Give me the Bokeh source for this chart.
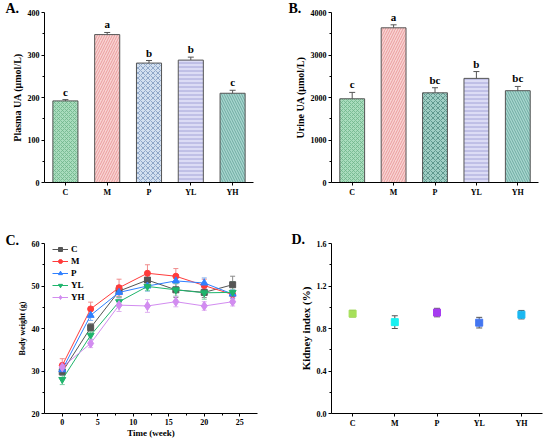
from bokeh.plotting import figure
from bokeh.models import (FactorRange, Range1d, FixedTicker, Whisker, TeeHead,
                          ColumnDataSource, Legend, LegendItem, PrintfTickFormatter)
from bokeh.layouts import column, row
from bokeh.embed import file_html
from bokeh.resources import INLINE
from bokeh.core.properties import value

# ---------------- data ----------------
groups = ["C", "M", "P", "YL", "YH"]

plasma_ua = [192, 348, 281, 288, 210]
plasma_err = [3, 5, 6, 7, 7]
plasma_sig = ["c", "a", "b", "b", "c"]

urine_ua = [1970, 3640, 2110, 2450, 2160]
urine_err = [150, 70, 120, 160, 100]
urine_sig = ["c", "a", "bc", "b", "bc"]

weeks = [0, 4, 8, 12, 16, 20, 24]
bw_C = [29.8, 40.2, 48.8, 51.4, 49.1, 48.5, 50.3]
bw_M = [31.3, 44.6, 49.6, 53.0, 52.3, 50.1, 48.0]
bw_P = [30.3, 43.1, 48.5, 50.0, 51.2, 50.7, 48.1]
bw_YL = [28.0, 38.4, 46.3, 49.9, 49.1, 48.4, 48.5]
bw_YH = [30.9, 36.5, 45.5, 45.3, 46.3, 45.3, 46.3]
bw_C_err = [0.8, 1.0, 1.3, 1.5, 1.8, 1.2, 2.0]
bw_M_err = [1.6, 1.6, 2.0, 2.0, 1.8, 1.5, 1.0]
bw_P_err = [1.2, 1.2, 1.2, 1.2, 1.5, 1.2, 1.0]
bw_YL_err = [1.2, 1.0, 1.0, 1.0, 1.5, 1.5, 2.5]
bw_YH_err = [1.0, 1.0, 1.5, 1.5, 1.2, 1.0, 1.0]

kidney_index = [0.94, 0.86, 0.95, 0.855, 0.93]
kidney_err = [0.03, 0.06, 0.04, 0.05, 0.04]

SERIF = "Liberation Serif"


def base_fig(x_range, y_range, width, height, left, right, top, bottom):
    p = figure(x_range=x_range, y_range=y_range, width=width, height=height,
               output_backend="svg", toolbar_location=None,
               min_border_left=left, min_border_right=right,
               min_border_top=top, min_border_bottom=bottom)
    p.xgrid.visible = False
    p.ygrid.visible = False
    p.outline_line_color = None
    p.border_fill_color = "white"
    for ax in [p.xaxis[0], p.yaxis[0]]:
        ax.axis_line_color = "black"
        ax.axis_line_width = 1
        ax.major_tick_line_color = "black"
        ax.minor_tick_line_color = "black"
        ax.major_tick_in = 0
        ax.major_tick_out = 3
        ax.minor_tick_in = 0
        ax.minor_tick_out = 2
        ax.major_label_text_font = SERIF
        ax.major_label_text_font_style = "bold"
        ax.major_label_text_font_size = "8px"
        ax.major_label_text_color = "black"
        ax.axis_label_text_font = SERIF
        ax.axis_label_text_font_style = "bold"
        ax.axis_label_text_color = "black"
        ax.major_label_standoff = 2
        ax.axis_label_standoff = 2
    return p


def panel_label(p, text, offset, standoff):
    t = p.title
    t.text = text
    t.align = "left"
    t.offset = offset
    t.standoff = standoff
    t.vertical_align = "bottom"
    t.text_font = SERIF
    t.text_font_style = "bold"
    t.text_font_size = "14px"
    t.text_color = "black"


def bar_panel(vals, errs, sig, ymax, yticks, yminor, ylabel, ylsize, fills, hcols,
              pats, scales, letter, loff, left, right):
    p = base_fig(FactorRange(factors=groups), Range1d(0, ymax), 275, 220, left, right, 12, 38)
    src = ColumnDataSource(dict(g=groups, v=vals,
                                up=[v + e for v, e in zip(vals, errs)],
                                lo=[v - e for v, e in zip(vals, errs)],
                                sig=sig, fill=fills, hc=hcols, pat=pats, sc=scales))
    p.vbar(x="g", top="v", width=0.6, source=src, fill_color="fill",
           line_color="#555555", line_width=1, hatch_pattern="pat",
           hatch_color="hc", hatch_scale="sc", hatch_weight=0.8)
    p.add_layout(Whisker(source=src, base="g", upper="up", lower="lo",
                         line_color="#555555", line_width=1,
                         upper_head=TeeHead(size=6, line_color="#555555", line_width=1),
                         lower_head=TeeHead(size=6, line_color="#555555", line_width=1)))
    p.text(x="g", y="up", text="sig", source=src, y_offset=-2,
           text_align="center", text_baseline="bottom", text_font=value(SERIF),
           text_font_style="bold", text_font_size="11px", text_color="black")
    p.yaxis.ticker = FixedTicker(ticks=yticks, minor_ticks=yminor)
    p.yaxis.axis_label = ylabel
    p.yaxis.axis_label_text_font_size = ylsize
    panel_label(p, letter, loff, -6)
    return p


pA = bar_panel(plasma_ua, plasma_err, plasma_sig, 400, [0, 100, 200, 300, 400],
               [50, 150, 250, 350], "Plasma UA (μmol/L)", "10px",
               ["#a9dcbd", "#f9d3d3", "#d2e0f0", "#dcdcf5", "#a8d6cf"],
               ["#6fb58a", "#e58f8f", "#7d98bf", "#9494d0", "#5f9f96"],
               ["x", "/", "x", "-", "\\"], [4, 5, 5, 4, 5], "A.", -39, 44, 22)

pB = bar_panel(urine_ua, urine_err, urine_sig, 4000, [0, 1000, 2000, 3000, 4000],
               [500, 1500, 2500, 3500], "Urine UA (μmol/L)", "10px",
               ["#a9dcbd", "#f9d3d3", "#9fcec4", "#dcdcf5", "#a8d6cf"],
               ["#6fb58a", "#e58f8f", "#4f8a80", "#9494d0", "#5f9f96"],
               ["x", "/", "x", "-", "\\"], [4, 5, 5, 4, 5], "B.", -43, 56, 12)

# ---------------- panel C ----------------
pC = base_fig(Range1d(-2.5, 27.5), Range1d(20, 60), 275, 220, 44, 18, 23, 27)
pC.xaxis.ticker = FixedTicker(ticks=[0, 5, 10, 15, 20, 25],
                              minor_ticks=[2.5, 7.5, 12.5, 17.5, 22.5])
pC.yaxis.ticker = FixedTicker(ticks=[20, 30, 40, 50, 60], minor_ticks=[25, 35, 45, 55])
pC.xaxis.axis_label = "Time (week)"
pC.xaxis.axis_label_text_font_size = "9px"
pC.xaxis.axis_label_standoff = 0
pC.yaxis.axis_label = "Body weight (g)"
pC.yaxis.axis_label_text_font_size = "8px"

series = [
    ("C", bw_C, bw_C_err, "#555555", "#8a8a8a", "square", 6),
    ("M", bw_M, bw_M_err, "#ff3b3b", "#f08c8c", "circle", 6),
    ("P", bw_P, bw_P_err, "#2f80ff", "#80b0f0", "triangle", 7),
    ("YL", bw_YL, bw_YL_err, "#1fb56c", "#7ccfa4", "inverted_triangle", 7),
    ("YH", bw_YH, bw_YH_err, "#d28cf0", "#dfb0f0", "diamond", 9),
]
items = []
for name, ys, es, col, ecol, mk, sz in series:
    src = ColumnDataSource(dict(x=weeks, y=ys,
                                up=[y + e for y, e in zip(ys, es)],
                                lo=[y - e for y, e in zip(ys, es)]))
    pC.add_layout(Whisker(source=src, base="x", upper="up", lower="lo",
                          line_color=ecol, line_width=1,
                          upper_head=TeeHead(size=5, line_color=ecol, line_width=1),
                          lower_head=TeeHead(size=5, line_color=ecol, line_width=1)))
    lr = pC.line("x", "y", source=src, line_color=col, line_width=1)
    sr = pC.scatter("x", "y", source=src, marker=mk, size=sz, fill_color=col, line_color=col)
    items.append(LegendItem(label=name, renderers=[lr, sr]))

leg = Legend(items=items, location=(8, 111), background_fill_alpha=0,
             border_line_color=None, glyph_width=16, glyph_height=10, label_height=10,
             spacing=2, padding=0, margin=0, label_standoff=3,
             label_text_font=SERIF, label_text_font_style="bold",
             label_text_font_size="9px", label_text_color="black")
pC.add_layout(leg)
panel_label(pC, "C.", -39, -8)

# ---------------- panel D ----------------
pD = base_fig(FactorRange(factors=groups), Range1d(0, 1.6), 275, 220, 56, 8, 23, 27)
pD.yaxis.ticker = FixedTicker(ticks=[0, 0.4, 0.8, 1.2, 1.6], minor_ticks=[0.2, 0.6, 1.0, 1.4])
pD.yaxis.formatter = PrintfTickFormatter(format="%.1f")
pD.yaxis.axis_label = "Kidney index (%)"
pD.yaxis.axis_label_text_font_size = "11px"
dsrc = ColumnDataSource(dict(g=groups, v=kidney_index,
                             up=[v + e for v, e in zip(kidney_index, kidney_err)],
                             lo=[v - e for v, e in zip(kidney_index, kidney_err)],
                             c=["#a6e05a", "#19f0f0", "#a63cf0", "#4376f0", "#1ab8f2"]))
pD.add_layout(Whisker(source=dsrc, base="g", upper="up", lower="lo",
                      line_color="#555555", line_width=1,
                      upper_head=TeeHead(size=6, line_color="#555555", line_width=1),
                      lower_head=TeeHead(size=6, line_color="#555555", line_width=1)))
pD.scatter(x="g", y="v", source=dsrc, marker="square", size=7, fill_color="c", line_color="c")
panel_label(pD, "D.", -40, -7)

layout = column(row(pA, pB), row(pC, pD))
open("out.html", "w").write(file_html(layout, INLINE))
